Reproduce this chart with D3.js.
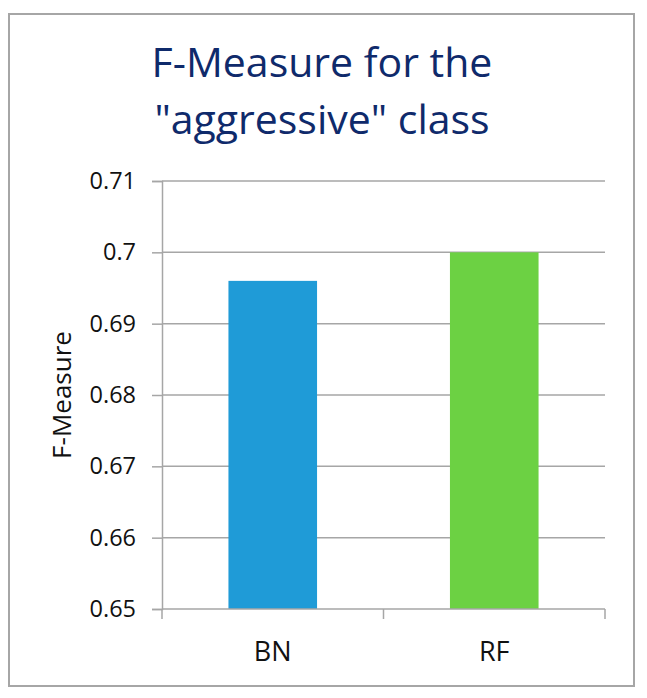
<!DOCTYPE html>
<html>
<head>
<meta charset="utf-8">
<script src="https://cdn.jsdelivr.net/npm/d3@7"></script>
<style>
  body { margin: 0; background: #fff; }
  text { font-family: "Open Sans", sans-serif; }
</style>
</head>
<body>
<div id="chart"></div>
<script>
var categories = ["BN", "RF"];
var values = [0.696, 0.7];
var barColors = ["#1f9bd7", "#6cd143"];
var yTicks = [0.65, 0.66, 0.67, 0.68, 0.69, 0.7, 0.71];
var titleLines = ["F-Measure for the", "\"aggressive\" class"];

var width = 647, height = 698;
var plot = { left: 162, right: 605, top: 181, bottom: 609 };

var svg = d3.select("#chart").append("svg")
    .attr("width", width)
    .attr("height", height);

// chart frame
svg.append("rect")
    .attr("x", 9).attr("y", 14)
    .attr("width", 625).attr("height", 672)
    .attr("fill", "#fff")
    .attr("stroke", "#a6a6a6")
    .attr("stroke-width", 2);

var x = d3.scaleBand()
    .domain(categories)
    .range([plot.left, plot.right])
    .paddingInner(0.6)
    .paddingOuter(0.3);

var y = d3.scaleLinear()
    .domain([0.65, 0.71])
    .range([plot.bottom, plot.top]);

// gridlines
svg.append("g")
  .selectAll("line")
  .data(yTicks.slice(1))
  .join("line")
    .attr("x1", plot.left).attr("x2", plot.right)
    .attr("y1", function(d) { return y(d); })
    .attr("y2", function(d) { return y(d); })
    .attr("stroke", "#a6a6a6")
    .attr("stroke-width", 1.5);

// bars
svg.append("g")
  .selectAll("rect")
  .data(values)
  .join("rect")
    .attr("x", function(d, i) { return x(categories[i]); })
    .attr("y", function(d) { return y(d); })
    .attr("width", x.bandwidth())
    .attr("height", function(d) { return y(0.65) - y(d); })
    .attr("fill", function(d, i) { return barColors[i]; });

// y axis
var yAxis = svg.append("g")
    .attr("transform", "translate(" + plot.left + ",0)")
    .call(d3.axisLeft(y).tickValues(yTicks).tickSize(10).tickPadding(16)
      .tickFormat(function(d) { return String(+d.toFixed(2)); }));
yAxis.select(".domain").attr("stroke", "#a6a6a6").attr("stroke-width", 1.5);
yAxis.selectAll(".tick line").attr("stroke", "#a6a6a6").attr("stroke-width", 1.5);
yAxis.selectAll(".tick text")
    .attr("fill", "#111")
    .style("font-size", "23.5px")
    .style("font-family", "'Open Sans', sans-serif");

// x axis: ticks at category boundaries like Excel
var xAxis = svg.append("g")
    .attr("transform", "translate(0," + plot.bottom + ")");
xAxis.append("line")
    .attr("x1", plot.left).attr("x2", plot.right)
    .attr("stroke", "#a6a6a6").attr("stroke-width", 1.5);
var bounds = [plot.left].concat(categories.map(function(c) { return x(c) + x.bandwidth() + x.step() * 0.3; }));
xAxis.selectAll(".bnd")
  .data(bounds)
  .join("line")
    .attr("class", "bnd")
    .attr("x1", function(d) { return d; }).attr("x2", function(d) { return d; })
    .attr("y1", 0).attr("y2", 10)
    .attr("stroke", "#a6a6a6").attr("stroke-width", 1.5);
xAxis.selectAll(".lbl")
  .data(categories)
  .join("text")
    .attr("class", "lbl")
    .attr("x", function(d) { return x(d) + x.bandwidth() / 2; })
    .attr("y", 52)
    .attr("text-anchor", "middle")
    .attr("fill", "#111")
    .style("font-size", "27px")
    .text(function(d) { return d; });

// y axis title
svg.append("text")
    .attr("transform", "translate(71,395) rotate(-90)")
    .attr("text-anchor", "middle")
    .attr("fill", "#111")
    .style("font-size", "26px")
    .text("F-Measure");

// chart title
svg.append("g")
  .selectAll("text")
  .data(titleLines)
  .join("text")
    .attr("x", 322)
    .attr("y", function(d, i) { return 77 + i * 57; })
    .attr("text-anchor", "middle")
    .attr("fill", "#0f2a6b")
    .style("font-size", "41px")
    .text(function(d) { return d; });
</script>
</body>
</html>
